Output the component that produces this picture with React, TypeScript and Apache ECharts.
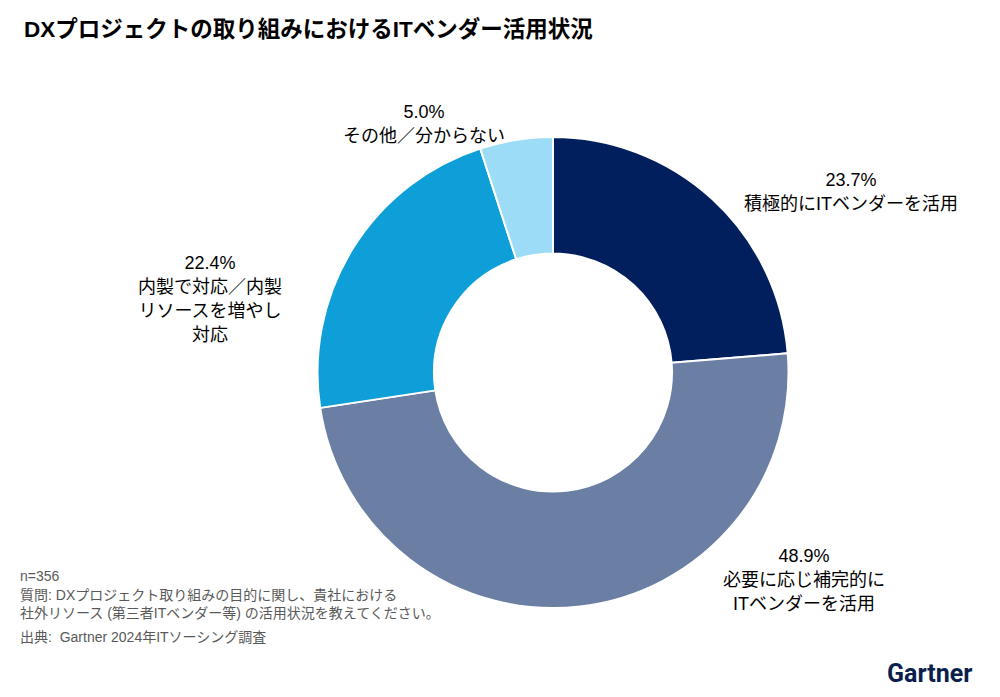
import React, { useEffect, useRef } from "react";
import * as echarts from "echarts";

const categories = [
  "積極的にITベンダーを活用",
  "必要に応じ補完的に\nITベンダーを活用",
  "内製で対応／内製\nリソースを増やし\n対応",
  "その他／分からない",
];
const values = [23.7, 48.9, 22.4, 5.0];
const colors = ["#001F5C", "#6A7FA3", "#0E9FD8", "#9CDCF6"];
const labelCenters = [
  [851, 192],
  [804, 580],
  [210, 299],
  [424, 124],
];
const notes = [
  "n=356",
  "質問: DXプロジェクト取り組みの目的に関し、貴社における",
  "社外リソース (第三者ITベンダー等) の活用状況を教えてください。",
  "出典:  Gartner 2024年ITソーシング調査",
];

const FONT = "'Liberation Sans', 'Noto Sans CJK JP', sans-serif";

export default function App() {
  const ref = useRef<HTMLDivElement>(null);
  useEffect(() => {
    document.body.style.margin = "0";
    const chart = echarts.init(ref.current!, null, { renderer: "svg" });
    chart.setOption({
      animation: false,
      backgroundColor: "#ffffff",
      title: {
        text: "DXプロジェクトの取り組みにおけるITベンダー活用状況",
        left: 19,
        top: 13,
        textStyle: { fontFamily: FONT, fontSize: 22.5, fontWeight: "bold", color: "#000" },
      },
      graphic: [
        ...notes.map((t, i) => ({
          type: "text",
          left: 20,
          top: [569, 588, 606, 630][i],
          style: { text: t, fontFamily: FONT, fontSize: 14, fill: "#595959" },
        })),
        {
          type: "text",
          left: 887,
          top: 661,
          style: { text: "Gartner", fontFamily: "Roboto, 'Liberation Sans', sans-serif", fontSize: 25, fontWeight: "bold", fill: "#0B1F4E" },
        },
      ],
      series: [
        {
          type: "pie",
          center: [553, 372.5],
          radius: [119, 235.5],
          startAngle: 90,
          clockwise: true,
          itemStyle: { borderColor: "#ffffff", borderWidth: 2 },
          label: {
            show: true,
            position: "outside",
            formatter: (p: any) => `${p.value.toFixed(1)}%\n${p.name}`,
            fontFamily: FONT,
            fontSize: 18,
            lineHeight: 24,
            color: "#000",
            align: "center",
          },
          labelLine: { show: false },
          labelLayout: (params: any) => ({
            x: labelCenters[params.dataIndex][0],
            y: labelCenters[params.dataIndex][1],
            align: "center",
            verticalAlign: "middle",
          }),
          emphasis: { disabled: true },
          data: categories.map((name, i) => ({
            name,
            value: values[i],
            itemStyle: { color: colors[i] },
          })),
        },
      ],
    });
    return () => chart.dispose();
  }, []);
  return <div ref={ref} style={{ width: 1000, height: 697 }} />;
}
